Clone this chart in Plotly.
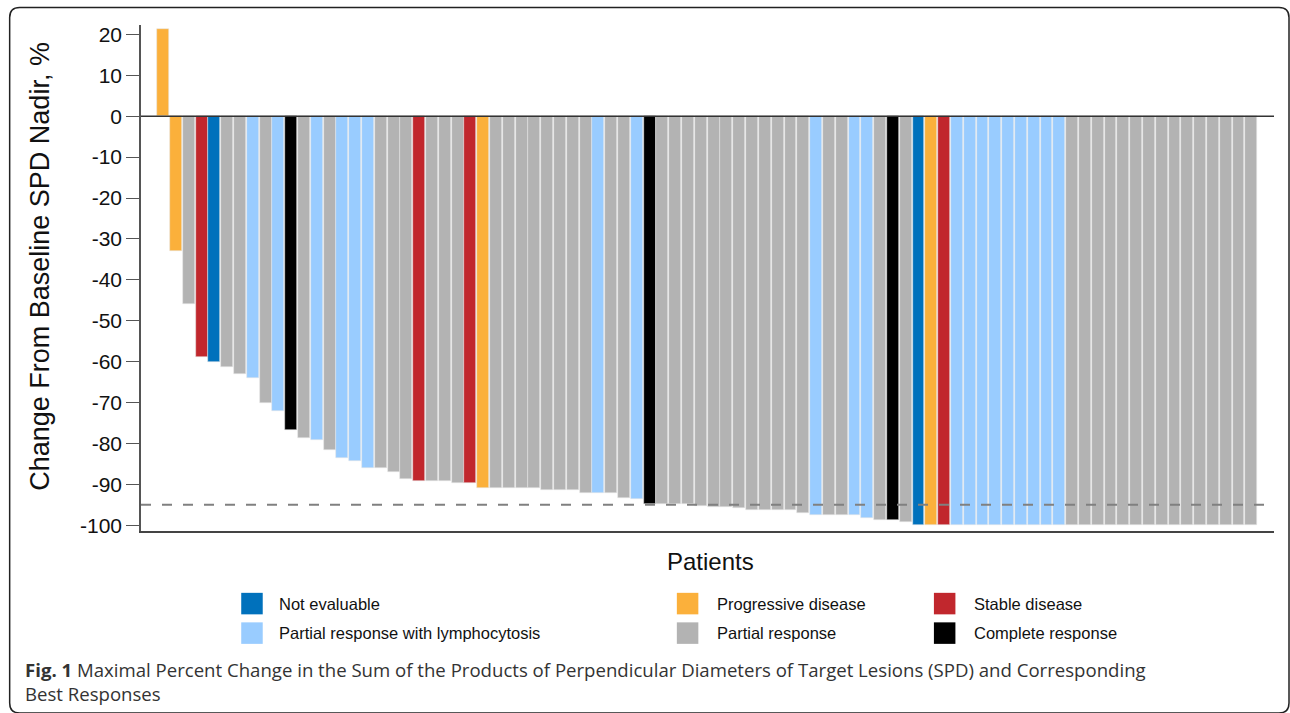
import plotly.graph_objects as go

# ---------------- data ----------------
categories = ["Not evaluable", "Progressive disease", "Stable disease",
              "Partial response with lymphocytosis", "Partial response", "Complete response"]
cat_colors = ["#0071BC", "#FBB03B", "#C1272D", "#99CCFF", "#B3B3B3", "#000000"]

# best response per patient (abbrev.): NE, PD, SD, PRL, PR, CR
responses = (
    ["PD", "PD", "PR", "SD", "NE", "PR", "PR", "PRL", "PR", "PRL",
     "CR", "PR", "PRL", "PR", "PRL", "PRL", "PRL", "PR", "PR", "PR",
     "SD", "PR", "PR", "PR", "SD", "PD", "PR", "PR", "PR", "PR",
     "PR", "PR", "PR", "PR", "PRL", "PR", "PR", "PRL", "CR", "PR",
     "PR", "PR", "PR", "PR", "PR", "PR", "PR", "PR", "PR", "PR",
     "PR", "PRL", "PR", "PR", "PRL", "PRL", "PR", "CR", "PR", "NE",
     "PD", "SD"]
    + ["PRL"] * 9
    + ["PR"] * 15
)
change_pct = (
    [21.3, -32.9, -45.9, -58.9, -60.1, -61.4, -63.1, -64.1, -70.2, -72.1,
     -76.8, -78.6, -79.1, -81.5, -83.5, -84.3, -86.1, -86.1, -86.9, -88.7,
     -89.2, -89.2, -89.2, -89.7, -89.7, -90.8, -90.8, -90.8, -90.8, -90.8,
     -91.4, -91.4, -91.4, -92.1, -92.1, -92.1, -93.3, -93.5, -94.7, -94.7,
     -94.7, -94.7, -95.4, -95.5, -95.6, -95.7, -96.3, -96.3, -96.3, -96.3,
     -96.9, -97.6, -97.6, -97.6, -97.6, -98.1, -98.8, -98.8, -99.3, -100.0,
     -100.0, -100.0]
    + [-100.0] * 9
    + [-100.0] * 15
)
code_to_cat = {"NE": 0, "PD": 1, "SD": 2, "PRL": 3, "PR": 4, "CR": 5}
threshold = -95.0
y_ticks = list(range(-100, 21, 10))
y_ticktext = [str(v) for v in y_ticks]
patients = list(range(1, len(change_pct) + 1))

# ---------------- layout geometry ----------------
W, H = 1290, 713
L, R, T, B = 141.3, 1274.0, 25.0, 530.7


def px(x):
    return (x - L) / (R - L)


def py(y):
    return (B - y) / (B - T)


bar_colors = [cat_colors[code_to_cat[c]] for c in responses]

fig = go.Figure()
fig.add_trace(go.Bar(
    x=patients, y=change_pct, width=0.93,
    marker=dict(color=bar_colors, line=dict(color="rgba(230,230,230,0.9)", width=0.6)),
    showlegend=False, hoverinfo="x+y",
))

shapes = []
# zero line
shapes.append(dict(type="line", xref="paper", yref="y", x0=0, x1=1, y0=0, y1=0,
                   line=dict(color="#333333", width=1.5), layer="above"))
# threshold dashed line
shapes.append(dict(type="line", xref="paper", yref="y", x0=0, x1=1, y0=threshold, y1=threshold,
                   line=dict(color="#808080", width=2, dash="10px,11px"), layer="above"))

# rounded frame around figure
fx0, fx1, fy0, fy1, rr = 10, 1289, 7.5, 712.5, 10
path = (f"M {px(fx0 + rr)},{py(fy0)} L {px(fx1 - rr)},{py(fy0)} "
        f"Q {px(fx1)},{py(fy0)} {px(fx1)},{py(fy0 + rr)} "
        f"L {px(fx1)},{py(fy1 - rr)} Q {px(fx1)},{py(fy1)} {px(fx1 - rr)},{py(fy1)} "
        f"L {px(fx0 + rr)},{py(fy1)} Q {px(fx0)},{py(fy1)} {px(fx0)},{py(fy1 - rr)} "
        f"L {px(fx0)},{py(fy0 + rr)} Q {px(fx0)},{py(fy0)} {px(fx0 + rr)},{py(fy0)} Z")
shapes.append(dict(type="path", xref="paper", yref="paper", path=path,
                   line=dict(color="#222222", width=1.5), fillcolor="rgba(0,0,0,0)"))

annotations = []
# custom legend
leg_order = [0, 1, 2, 3, 4, 5]
col_sq_x = [241.5, 677, 934]
col_tx_x = [277, 715, 972]
row_y = [592.5, 622]
sq = 21.5
for k, ci in enumerate(leg_order):
    col, row = k % 3, k // 3
    x0 = col_sq_x[col]
    y0 = row_y[row]
    shapes.append(dict(type="rect", xref="paper", yref="paper",
                       x0=px(x0), x1=px(x0 + sq), y0=py(y0 + sq), y1=py(y0),
                       fillcolor=cat_colors[ci], line=dict(width=0)))
    annotations.append(dict(xref="paper", yref="paper", x=px(col_tx_x[col]), y=py(y0 + sq / 2),
                            xanchor="left", yanchor="middle", showarrow=False,
                            text=categories[ci],
                            font=dict(family="Liberation Sans, Arial", size=16.5, color="#111111")))

# axis titles
annotations.append(dict(xref="paper", yref="paper", x=px(711), y=py(561), xanchor="center",
                        yanchor="middle", showarrow=False, text="Patients",
                        font=dict(family="Liberation Sans, Arial", size=24, color="#111111")))
annotations.append(dict(xref="paper", yref="paper", x=px(40), y=py(266), xanchor="center",
                        yanchor="middle", showarrow=False, textangle=-90,
                        text="Change From Baseline SPD Nadir, %",
                        font=dict(family="Liberation Sans, Arial", size=27, color="#111111")))
# caption
annotations.append(dict(xref="paper", yref="paper", x=px(23), y=py(655), xanchor="left",
                        yanchor="top", showarrow=False, align="left",
                        text="<b>Fig. 1</b> Maximal Percent Change in the Sum of the Products of Perpendicular "
                             "Diameters of Target Lesions (SPD) and Corresponding<br>Best Responses",
                        font=dict(family="Open Sans", size=18.6, color="#333333")))

fig.update_layout(
    width=W, height=H,
    margin=dict(l=L, r=W - R, t=T, b=H - B),
    paper_bgcolor="white", plot_bgcolor="white",
    font=dict(family="Liberation Sans, Arial", color="#111111"),
    shapes=shapes, annotations=annotations,
    bargap=0,
)
fig.update_xaxes(range=[-0.73, 87.77], showticklabels=False, ticks="", showgrid=False,
                 zeroline=False, showline=True, linecolor="#444444", linewidth=2)
fig.update_yaxes(range=[-101.4, 22.3], tickvals=y_ticks, ticktext=y_ticktext,
                 ticks="outside", ticklen=13,
                 tickcolor="#555555", tickwidth=1.2, showline=True, linecolor="#555555", linewidth=1.5,
                 showgrid=False, zeroline=False,
                 tickfont=dict(family="Liberation Sans, Arial", size=21, color="#111111"))

fig.write_html("out.html", config={"displayModeBar": False},
               post_script="document.body.style.margin='0px';")
